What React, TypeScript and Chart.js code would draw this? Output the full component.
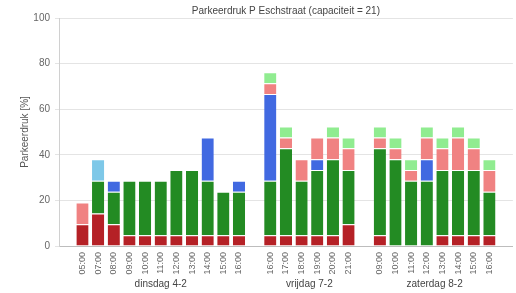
import React, { useEffect, useRef } from "react";
import { Chart, registerables } from "chart.js";

Chart.register(...registerables);

const FONT = "'Liberation Sans', Arial, sans-serif";

const title = "Parkeerdruk P Eschstraat (capaciteit = 21)";
const yTitle = "Parkeerdruk [%]";

const days = ["dinsdag 4-2", "vrijdag 7-2", "zaterdag 8-2"];
const hoursDi = ["05:00", "07:00", "08:00", "09:00", "10:00", "11:00", "12:00", "13:00", "14:00", "15:00", "16:00"];
const hoursVr = ["16:00", "17:00", "18:00", "19:00", "20:00", "21:00"];
const hoursZa = ["09:00", "10:00", "11:00", "12:00", "13:00", "14:00", "15:00", "16:00"];

// percentages per series (stack order bottom -> top), per day
const darkRedDi = [9.52, 14.29, 9.52, 4.76, 4.76, 4.76, 4.76, 4.76, 4.76, 4.76, 4.76];
const darkRedVr = [4.76, 4.76, 4.76, 4.76, 4.76, 9.52];
const darkRedZa = [4.76, 0, 0, 0, 4.76, 4.76, 4.76, 4.76];

const greenDi = [0, 14.29, 14.29, 23.81, 23.81, 23.81, 28.57, 28.57, 23.81, 19.05, 19.05];
const greenVr = [23.81, 38.1, 23.81, 28.57, 33.33, 23.81];
const greenZa = [38.1, 38.1, 28.57, 28.57, 28.57, 28.57, 28.57, 19.05];

const blueDi = [0, 0, 4.76, 0, 0, 0, 0, 0, 19.05, 0, 4.76];
const blueVr = [38.1, 0, 0, 4.76, 0, 0];
const blueZa = [0, 0, 0, 9.52, 0, 0, 0, 0];

const lightBlueDi = [0, 9.52, 0, 0, 0, 0, 0, 0, 0, 0, 0];
const lightBlueVr = [0, 0, 0, 0, 0, 0];
const lightBlueZa = [0, 0, 0, 0, 0, 0, 0, 0];

const lightRedDi = [9.52, 0, 0, 0, 0, 0, 0, 0, 0, 0, 0];
const lightRedVr = [4.76, 4.76, 9.52, 9.52, 9.52, 9.52];
const lightRedZa = [4.76, 4.76, 4.76, 9.52, 9.52, 14.29, 9.52, 9.52];

const lightGreenDi = [0, 0, 0, 0, 0, 0, 0, 0, 0, 0, 0];
const lightGreenVr = [4.76, 4.76, 0, 0, 4.76, 4.76];
const lightGreenZa = [4.76, 4.76, 4.76, 4.76, 4.76, 4.76, 4.76, 4.76];

const yTicks = [0, 20, 40, 60, 80, 100];

const hourGroups = [hoursDi, hoursVr, hoursZa];

function withGaps(parts: (number | string)[][], gap: number | string | null) {
  const out: any[] = [gap];
  parts.forEach((p) => {
    out.push(...p);
    out.push(gap);
  });
  return out;
}

const labels = withGaps(hourGroups, "");
const groupRanges: { label: string; start: number; end: number }[] = [];
{
  let idx = 1;
  hourGroups.forEach((g, i) => {
    groupRanges.push({ label: days[i], start: idx, end: idx + g.length - 1 });
    idx += g.length + 1;
  });
}

const seriesDefs = [
  { label: "rood", color: "#b52126", parts: [darkRedDi, darkRedVr, darkRedZa] },
  { label: "groen", color: "#238b23", parts: [greenDi, greenVr, greenZa] },
  { label: "blauw", color: "#4169e1", parts: [blueDi, blueVr, blueZa] },
  { label: "lichtblauw", color: "#7ec8e8", parts: [lightBlueDi, lightBlueVr, lightBlueZa] },
  { label: "lichtrood", color: "#f08282", parts: [lightRedDi, lightRedVr, lightRedZa] },
  { label: "lichtgroen", color: "#90ec90", parts: [lightGreenDi, lightGreenVr, lightGreenZa] },
];

const groupLabelPlugin = {
  id: "groupLabels",
  afterDraw(chart: any) {
    const x = chart.scales.x;
    const ctx = chart.ctx;
    ctx.save();
    ctx.font = `10px ${FONT}`;
    ctx.fillStyle = "#444";
    ctx.textAlign = "center";
    ctx.textBaseline = "middle";
    groupRanges.forEach((g) => {
      const cx = (x.getPixelForValue(g.start) + x.getPixelForValue(g.end)) / 2;
      ctx.fillText(g.label, cx, 284);
    });
    ctx.restore();
  },
};

export default function App() {
  const ref = useRef<HTMLCanvasElement>(null);
  useEffect(() => {
    document.body.style.margin = "0";
    document.body.style.overflow = "hidden";
    const chart = new Chart(ref.current!, {
      type: "bar",
      data: {
        labels,
        datasets: seriesDefs.map((s) => ({
          label: s.label,
          data: withGaps(s.parts, null),
          backgroundColor: s.color,
          borderColor: "rgba(255,255,255,0.75)",
          borderWidth: { top: 1, left: 0, right: 0, bottom: 0 },
          borderSkipped: false,
          categoryPercentage: 1,
          barPercentage: 0.78,
        })),
      },
      options: {
        animation: false,
        responsive: false,
        devicePixelRatio: 1,
        layout: { padding: { left: 0, right: 0, top: 0, bottom: 0 } },
        plugins: {
          legend: { display: false },
          tooltip: { enabled: false },
          title: {
            display: true,
            text: title,
            fullSize: false,
            color: "#444",
            font: { size: 10, family: FONT, weight: "normal" },
            padding: { top: 5, bottom: 1 },
          },
        },
        scales: {
          x: {
            stacked: true,
            grid: { display: false, drawTicks: false },
            border: { display: true, color: "#bdbdbd" },
            ticks: {
              autoSkip: false,
              minRotation: 90,
              maxRotation: 90,
              padding: 6,
              color: "#666",
              font: { size: 9, family: FONT },
            },
            afterFit(scale: any) {
              scale.height = 47;
            },
          },
          y: {
            stacked: true,
            min: 0,
            max: 100,
            afterBuildTicks(scale: any) {
              scale.ticks = yTicks.map((v) => ({ value: v }));
            },
            grid: { color: "#e4e4e4", tickLength: 4 },
            border: { display: true, color: "#d0d0d0" },
            ticks: {
              padding: 5,
              color: "#666",
              font: { size: 10, family: FONT },
            },
            title: {
              display: true,
              text: yTitle,
              color: "#555",
              font: { size: 10, family: FONT },
              padding: { top: 19, bottom: 0 },
            },
            afterFit(scale: any) {
              scale.width = 59;
            },
          },
        },
      },
      plugins: [groupLabelPlugin],
    });
    return () => chart.destroy();
  }, []);
  return (
    <div style={{ position: "fixed", left: 0, top: 0, width: 522, height: 293 }}>
      <canvas ref={ref} width={522} height={293} />
    </div>
  );
}
